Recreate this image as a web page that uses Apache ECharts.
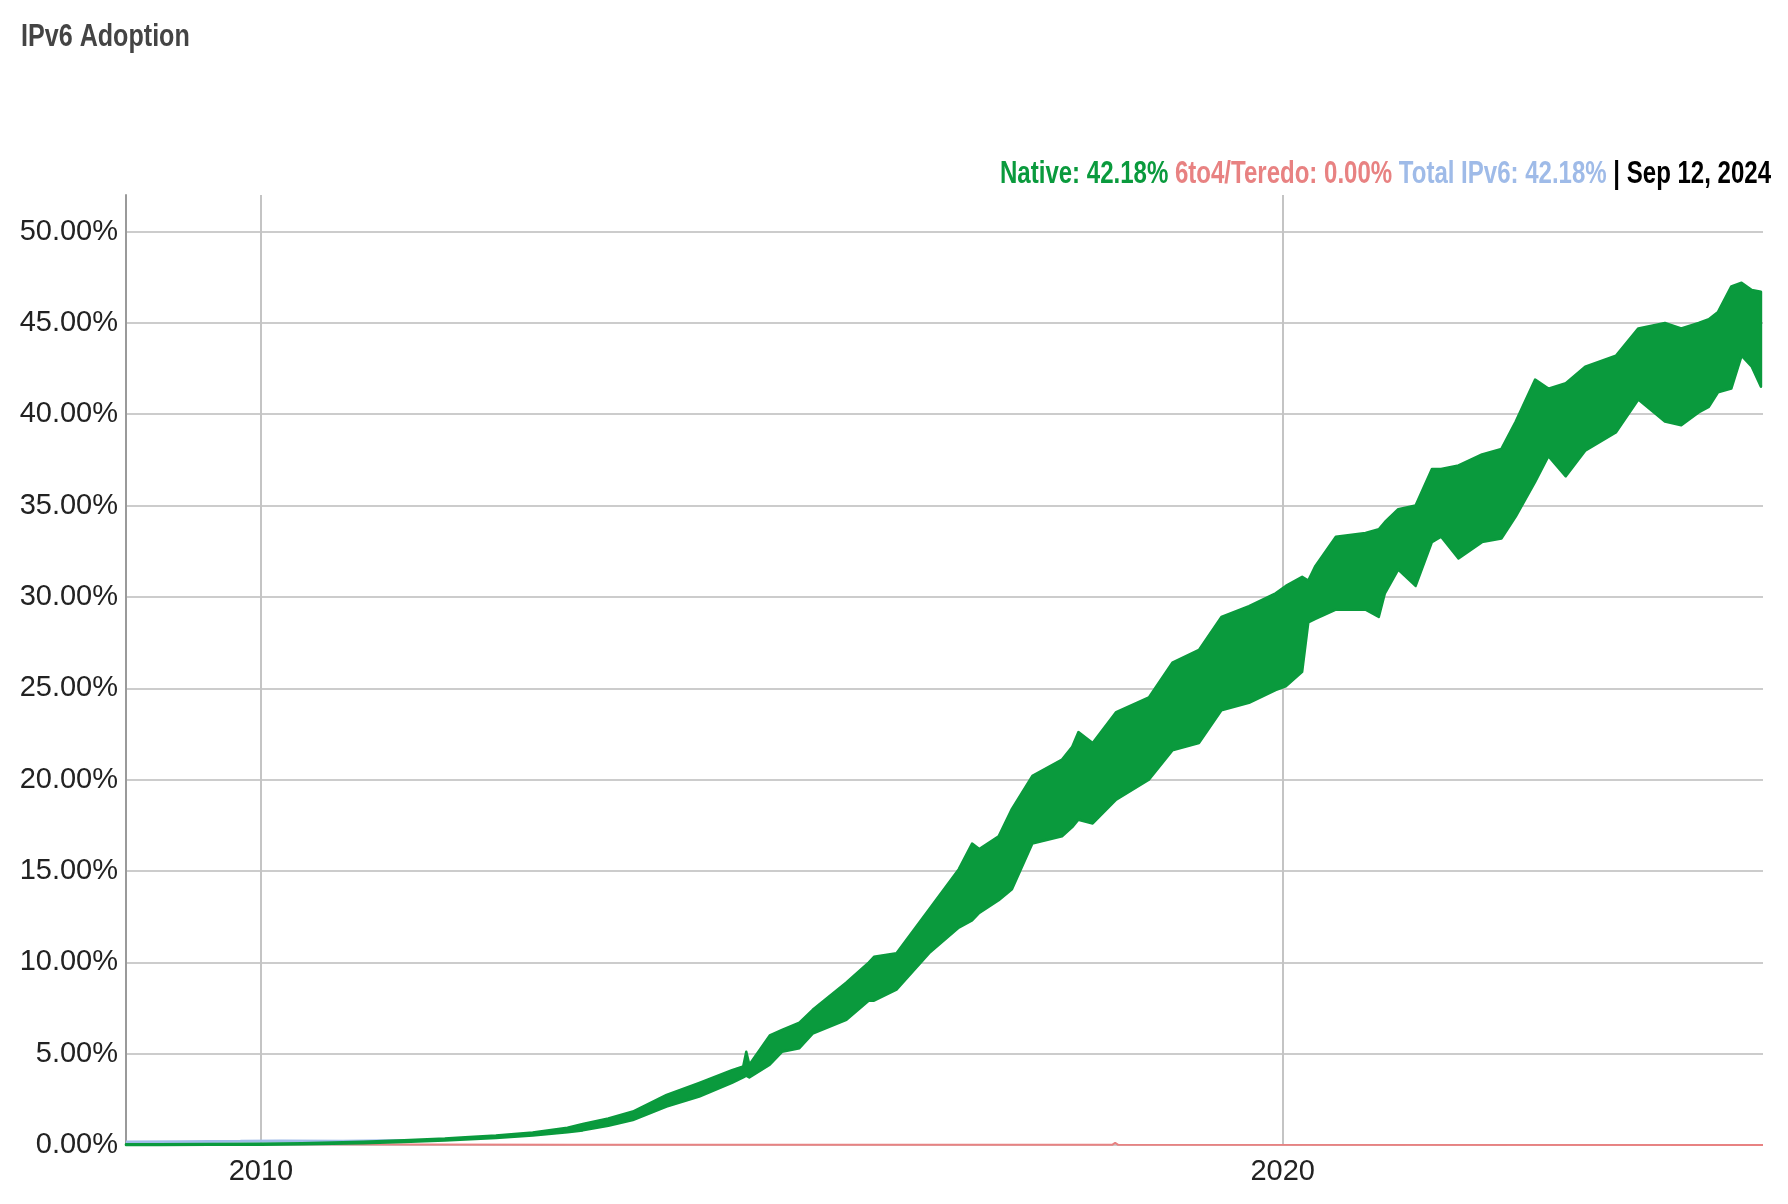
<!DOCTYPE html>
<html>
<head>
<meta charset="utf-8">
<title>IPv6 Adoption</title>
<script src="https://cdn.jsdelivr.net/npm/echarts@6/dist/echarts.min.js"></script>
<style>
  html, body { margin: 0; padding: 0; background: #fff; }
  #main { width: 1788px; height: 1204px; }
</style>
</head>
<body>
<div id="main"></div>
<script>
// dates as decimal years, native ipv6 share read as a low/high band (weekday vs weekend)
var years = [2008.68, 2009.0, 2009.5, 2010.0, 2010.4, 2011.0, 2011.4, 2011.8, 2012.0, 2012.3,
  2012.66, 2013.0, 2013.15, 2013.4, 2013.64, 2013.97, 2014.29, 2014.61, 2014.72, 2014.75,
  2014.78, 2014.98, 2015.1, 2015.27, 2015.4, 2015.73, 2015.95, 2016.0, 2016.22, 2016.54,
  2016.83, 2016.96, 2017.03, 2017.22, 2017.35, 2017.55, 2017.84, 2017.94, 2018.0, 2018.14,
  2018.37, 2018.69, 2018.92, 2019.18, 2019.4, 2019.67, 2019.93, 2020.03, 2020.19, 2020.25,
  2020.32, 2020.52, 2020.81, 2020.94, 2021.0, 2021.13, 2021.3, 2021.46, 2021.55, 2021.72,
  2021.95, 2022.14, 2022.28, 2022.47, 2022.6, 2022.77, 2022.96, 2023.26, 2023.48, 2023.74,
  2023.9, 2024.07, 2024.17, 2024.26, 2024.39, 2024.49, 2024.59, 2024.68];
var nativeLow = [0.00, 0.00, 0.01, 0.02, 0.04, 0.10, 0.16, 0.24, 0.30, 0.38,
  0.52, 0.70, 0.80, 1.05, 1.37, 2.10, 2.65, 3.40, 3.70, 3.80,
  3.70, 4.40, 5.10, 5.30, 6.10, 6.85, 7.90, 7.90, 8.50, 10.50,
  11.90, 12.30, 12.70, 13.40, 14.00, 16.50, 16.90, 17.40, 17.80, 17.60,
  18.90, 20.00, 21.60, 22.00, 23.80, 24.20, 24.90, 25.10, 25.90, 28.60,
  28.80, 29.30, 29.30, 28.90, 30.20, 31.50, 30.60, 33.00, 33.30, 32.10,
  33.00, 33.20, 34.40, 36.30, 37.70, 36.60, 38.00, 39.00, 40.80, 39.60,
  39.40, 40.10, 40.40, 41.20, 41.40, 43.20, 42.60, 41.50];
var nativeHigh = [0.04, 0.04, 0.05, 0.07, 0.10, 0.18, 0.26, 0.35, 0.43, 0.52,
  0.68, 0.95, 1.15, 1.45, 1.83, 2.74, 3.40, 4.10, 4.30, 5.10,
  4.40, 6.00, 6.30, 6.70, 7.40, 8.90, 10.00, 10.30, 10.50, 12.90,
  15.10, 16.50, 16.20, 16.90, 18.40, 20.20, 21.10, 21.80, 22.60, 22.00,
  23.70, 24.50, 26.40, 27.10, 28.90, 29.50, 30.20, 30.60, 31.10, 30.90,
  31.70, 33.30, 33.50, 33.70, 34.10, 34.80, 35.00, 37.00, 37.00, 37.20,
  37.80, 38.10, 39.60, 41.90, 41.40, 41.70, 42.60, 43.20, 44.70, 45.00,
  44.70, 45.00, 45.20, 45.60, 47.00, 47.20, 46.80, 46.70];

// total ipv6 (only shows above the green line in the early years)
var totalYears = [2008.68, 2009.2, 2009.8, 2010.2, 2010.8, 2011.4];
var totalValues = [0.16, 0.18, 0.20, 0.22, 0.20, 0.24];

// 6to4/teredo
var teredoYears = [2008.68, 2010.0, 2011.5, 2013.0, 2018.33, 2018.36, 2018.39, 2024.7];
var teredoValues = [0.06, 0.05, 0.03, 0.01, 0.01, 0.12, 0.01, 0.0];

var xLabelYears = [2010, 2020];
var latest = { native: 42.18, teredo: 0.00, total: 42.18, date: 'Sep 12, 2024' };

var GREEN = '#0a9a3d', RED = '#e88282', BLUE = '#9fbbe8';
var SANS = "'Liberation Sans', Arial, sans-serif";

var nativeData = years.map(function (y, i) { return [y, nativeLow[i], nativeHigh[i]]; });
var totalData = totalYears.map(function (y, i) { return [y, totalValues[i]]; });
var teredoData = teredoYears.map(function (y, i) { return [y, teredoValues[i]]; });

var chart = echarts.init(document.getElementById('main'));

// band between low and high, as one polygon
function renderBand(params, api) {
  if (params.dataIndex !== 0) return null;
  var top = [], bottom = [];
  for (var i = 0; i < years.length; i++) {
    top.push(api.coord([years[i], nativeHigh[i]]));
    bottom.push(api.coord([years[i], nativeLow[i]]));
  }
  return {
    type: 'polygon',
    shape: { points: top.concat(bottom.reverse()) },
    style: { fill: GREEN, stroke: GREEN, lineWidth: 2.5, lineJoin: 'round' }
  };
}

function richPart(color) {
  return { fill: color, fontFamily: SANS, fontSize: 31, fontWeight: 'bold' };
}

var option = {
  animation: false,
  graphic: [{
    type: 'text',
    x: 21,
    y: 22,
    scaleX: 0.81,
    style: {
      text: 'IPv6 Adoption',
      font: 'bold 31px ' + SANS,
      fill: '#444',
      verticalAlign: 'top', textVerticalAlign: 'top'
    }
  }, {
    // value readout above the plot
    type: 'text',
    x: 1771,
    y: 159,
    scaleX: 0.775,
    style: {
      text: '{n|Native: ' + latest.native.toFixed(2) + '%} {t|6to4/Teredo: ' + latest.teredo.toFixed(2) +
        '%} {v|Total IPv6: ' + latest.total.toFixed(2) + '%} {d|| ' + latest.date + '}',
      font: 'bold 31px ' + SANS,
      align: 'right', textAlign: 'right',
      verticalAlign: 'top', textVerticalAlign: 'top',
      rich: { n: richPart(GREEN), t: richPart(RED), v: richPart(BLUE), d: richPart('#000') }
    }
  }],
  grid: { left: 126, right: 25, top: 195, bottom: 59 },
  xAxis: {
    type: 'value',
    min: 2008.68,
    max: 2024.70,
    axisLine: { show: false },
    axisTick: { show: false },
    splitLine: { show: false },
    axisLabel: {
      customValues: xLabelYears,
      formatter: function (v) { return String(v); },
      margin: 12,
      fontFamily: SANS, fontSize: 29, color: '#222'
    }
  },
  yAxis: {
    type: 'value',
    min: 0,
    max: 52,
    interval: 5,
    axisLine: { show: true, lineStyle: { color: '#9a9a9a', width: 2 } },
    axisTick: { show: false },
    splitLine: { show: true, showMaxLine: false, lineStyle: { color: '#cccccc', width: 2 } },
    axisLabel: {
      showMaxLabel: false,
      formatter: function (v) { return v % 5 === 0 ? v.toFixed(2) + '%' : ''; },
      margin: 8,
      padding: [6, 0, 0, 0],
      fontFamily: SANS, fontSize: 29, color: '#222'
    }
  },
  series: [{
    name: '6to4/Teredo',
    type: 'line',
    z: 1,
    data: teredoData,
    showSymbol: false,
    lineStyle: { color: RED, width: 2 },
    markLine: {
      silent: true,
      z: 1,
      symbol: ['none', 'none'],
      label: { show: false },
      lineStyle: { color: '#c4c4c4', width: 2, type: 'solid' },
      data: xLabelYears.map(function (y) { return { xAxis: y }; })
    }
  }, {
    name: 'Total IPv6',
    type: 'line',
    z: 1,
    data: totalData,
    showSymbol: false,
    lineStyle: { color: BLUE, width: 3 }
  }, {
    name: 'Native',
    type: 'custom',
    z: 3,
    data: nativeData,
    encode: { x: 0, y: [1, 2] },
    renderItem: renderBand
  }]
};

chart.setOption(option);
</script>
</body>
</html>
